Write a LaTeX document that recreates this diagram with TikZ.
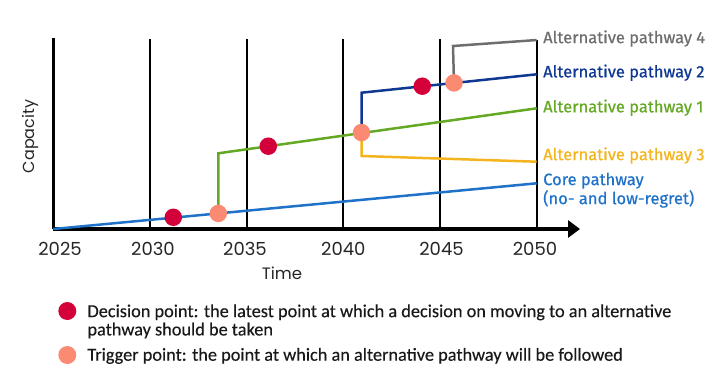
\documentclass[tikz,border=0pt]{standalone}
\usepackage{fontspec}
\setmainfont{Fira Sans}
\newfontfamily\axisfont{Poppins}
\newfontfamily\labfont[FakeBold=0.6]{Fira Sans}
\newfontfamily\legfont[FakeBold=0.3]{Carlito}
\usetikzlibrary{arrows.meta}
\definecolor{coreblue}{HTML}{1F72C8}
\definecolor{navy}{HTML}{0F3893}
\definecolor{pgreen}{HTML}{65A823}
\definecolor{pyellow}{HTML}{F4B41E}
\definecolor{pgray}{HTML}{6E6E70}
\definecolor{dred}{HTML}{D4003A}
\definecolor{salmon}{HTML}{FA8A72}
\tikzset{
  gridline/.style={black, line width=1.7bp},
  axisline/.style={black, line width=3.2bp},
  pathline/.style={line width=2.5bp},
  decision/.style={circle, fill=dred, minimum size=17.5bp, inner sep=0pt},
  trigger/.style={circle, fill=salmon, minimum size=17.5bp, inner sep=0pt},
  ticklabel/.style={font=\axisfont\fontsize{18bp}{21bp}\selectfont, inner sep=0pt, text=black!85},
  pathlabel/.style={anchor=west, inner sep=0pt, font=\labfont\fontsize{16.5bp}{19bp}\selectfont},
  legtext/.style={inner sep=0pt, align=left, font=\legfont\fontsize{18.3bp}{18.3bp}\selectfont, text=black!90}
}
\begin{document}
\begin{tikzpicture}[x=1bp, y=-1bp]
\useasboundingbox (0,0) rectangle (720,373);
% grid
\foreach \xx/\yr in {150/2030, 246.7/2035, 343.3/2040, 440/2045} {
  \coordinate (gt\yr) at (\xx,39);
  \coordinate (gb\yr) at (\xx,229);
  \draw[gridline] (gt\yr) -- (gb\yr);
}
\coordinate (gt2050) at (536.7,40);
\coordinate (gb2050) at (536.7,229);
\draw[gridline] (gt2050) -- (gb2050);
% axes
\coordinate (origin) at (53.3,229);
\coordinate (ytop) at (53.3,38);
\coordinate (xend) at (580,229);
\draw[axisline] (ytop) -- (origin.center);
\draw[axisline, -{Triangle[length=12bp, width=17bp]}] (origin) -- (xend);
% tick labels
\foreach \xx/\yr in {60/2025, 153/2030, 245/2035, 343.3/2040, 441.5/2045, 535/2050} {
  \node[ticklabel] (tl\yr) at (\xx,249) {\yr};
}
\node[font=\axisfont\fontsize{16.5bp}{19bp}\selectfont, inner sep=0pt, text=black!85] (timelab) at (282,273) {Time};
\node[font=\axisfont\fontsize{16bp}{19bp}\selectfont, inner sep=0pt, rotate=90, text=black!85] (caplab) at (30,136.5) {Capacity};
% pathway coordinates
\coordinate (c0) at (53.3,229);
\coordinate (c1) at (536.7,183.3);
\coordinate (g0) at (218.3,153.3);
\coordinate (g1) at (536.7,108.3);
\coordinate (b0) at (361.5,92.7);
\coordinate (b1) at (536.7,74.3);
\coordinate (a0) at (453,46);
\coordinate (a1) at (536.7,40);
\coordinate (y0) at (361.5,156);
\coordinate (y1) at (536.7,161.7);
% markers positions
\coordinate (tcore) at (218.3,213.4);
\coordinate (tgreen) at (361.5,132.5);
\coordinate (tblue) at (454,82.9);
% pathways
\draw[pathline, coreblue] (c0) -- (c1);
\draw[pathline, pgreen] (tcore) -- (g0) -- (g1);
\draw[pathline, navy] (tgreen) -- (b0) -- (b1);
\draw[pathline, pgray] (tblue) -- (a0) -- (a1);
\draw[pathline, pyellow] (tgreen) -- (y0) -- (y1);
% decision & trigger points
\node[decision] (d1) at (173.3,217.3) {};
\node[trigger] (t1) at (tcore) {};
\node[decision] (d2) at (268.3,146.2) {};
\node[trigger] (t2) at (tgreen) {};
\node[decision] (d3) at (422.3,86.2) {};
\node[trigger] (t3) at (tblue) {};
% labels
\node[pathlabel, text=pgray] (l4) at (543,38.5) {Alternative pathway 4};
\node[pathlabel, text=navy] (l2) at (543,72.7) {Alternative pathway 2};
\node[pathlabel, text=pgreen] (l1) at (543,107.7) {Alternative pathway 1};
\node[pathlabel, text=pyellow] (l3) at (543,155.5) {Alternative pathway 3};
\node[pathlabel, text=coreblue, align=left] (lc) at (543,190.2) {Core pathway\\(no- and low-regret)};
% legend
\node[decision, minimum size=18bp] (ld) at (67.3,311) {};
\node[trigger, minimum size=18bp] (lt) at (67.3,355) {};
\node[legtext, anchor=west] (ldt) at (87.3,321.4) {Decision point: the latest point at which a decision on moving to an alternative\\pathway should be taken};
\node[legtext, anchor=base west] (ltt) at (87.3,360.7) {Trigger point: the point at which an alternative pathway will be followed};
\end{tikzpicture}
\end{document}
